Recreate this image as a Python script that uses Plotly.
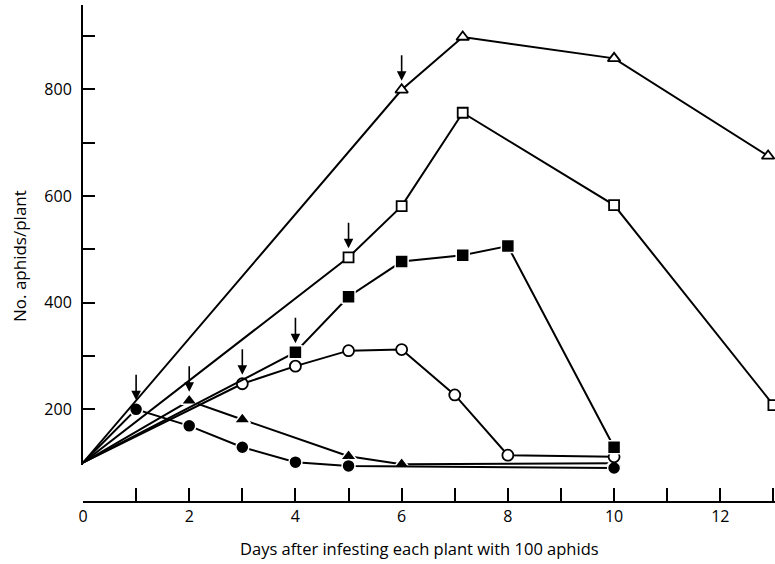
import plotly.graph_objects as go

# ---- data ----
fc_days = [0, 1, 2, 3, 4, 5, 10]
fc_vals = [100, 200, 169, 129, 101, 94, 90]

ft_days = [0, 2, 3, 5, 6, 10]
ft_vals = [100, 216, 181, 112, 97, 99]

oc_days = [0, 3, 4, 5, 6, 7, 8, 10]
oc_vals = [100, 248, 281, 310, 312, 227, 114, 111]

fs_days = [0, 4, 5, 6, 7.15, 8, 10]
fs_vals = [100, 307, 411, 477, 489, 506, 129]

os_days = [0, 5, 6, 7.15, 10, 13]
os_vals = [100, 485, 581, 756, 583, 208]

ot_days = [0, 6, 7.15, 10, 12.9]
ot_vals = [100, 799, 898, 858, 675]

x_title = "Days after infesting each plant with 100 aphids"
y_title = "No. aphids/plant"
x_major = [0, 2, 4, 6, 8, 10, 12]
y_major = [200, 400, 600, 800]
y_minor = [300, 500, 700, 900]

FONT = "Open Sans"

series = [
    (ft_days, ft_vals, "triangle-up", "black", 11),
    (fc_days, fc_vals, "circle", "black", 10),
    (oc_days, oc_vals, "circle", "white", 11),
    (fs_days, fs_vals, "square", "black", 10),
    (os_days, os_vals, "square", "white", 10),
    (ot_days, ot_vals, "triangle-up", "white", 11),
]

# axis geometry
Y_TOP, Y_AXIS_BOTTOM = 958, 95.6
DOM0 = 0.0744  # visible y-axis line starts above the detached x-axis
Y_DATA_BOTTOM = Y_TOP - (Y_TOP - Y_AXIS_BOTTOM) / (1 - DOM0)

fig = go.Figure()
for d, v, sym, fill, sz in series:
    filled = fill == "black"
    s = sz + (3 if filled else 0)
    sizes = [0] + [s] * (len(d) - 1)  # no marker at the common start point
    fig.add_trace(go.Scatter(
        x=d, y=v, mode="lines+markers",
        line=dict(color="black", width=2),
        marker=dict(symbol=sym, size=sizes, color=fill, opacity=1,
                    line=dict(color="white" if filled else "black",
                              width=1.5 if filled else 1.8)),
        cliponaxis=False, showlegend=False, hoverinfo="skip",
    ))
    # arrow above the first measured point of each series
    fig.add_annotation(
        x=d[1], y=v[1], xref="x", yref="y", text="",
        showarrow=True, ax=0, ay=-36, standoff=9,
        arrowhead=2, arrowsize=1.2, arrowwidth=1.6, arrowcolor="black",
    )

# empty trace so the visible (shorter) y-axis is drawn
fig.add_trace(go.Scatter(x=[], y=[], xaxis="x", yaxis="y2", showlegend=False,
                         hoverinfo="skip"))

W, H = 775, 564
l, r, t, b = 83, 0, 5, 62
pw, ph = W - l - r, H - t - b

fig.add_annotation(x=(419 - l) / pw, y=(H - b - 548) / ph, xref="paper", yref="paper",
                   text=x_title, showarrow=False, xanchor="center", yanchor="middle",
                   font=dict(family=FONT, size=16.5, color="black"))
fig.add_annotation(x=(19 - l) / pw, y=(H - b - 256) / ph, xref="paper", yref="paper",
                   text=y_title, textangle=-90, showarrow=False,
                   xanchor="center", yanchor="middle",
                   font=dict(family=FONT, size=17, color="black"))

fig.update_layout(
    width=W, height=H,
    margin=dict(l=l, r=r, t=t, b=b),
    paper_bgcolor="white", plot_bgcolor="rgba(0,0,0,0)",
    font=dict(family=FONT, size=16, color="black"),
    xaxis=dict(
        range=[0, 13.03], anchor="free", position=0,
        showline=True, linecolor="black", linewidth=2,
        ticks="inside", ticklen=13, tickwidth=2, tickcolor="black",
        tickvals=x_major, showgrid=False, zeroline=False,
        minor=dict(dtick=1, tick0=0, ticks="inside", ticklen=13, tickwidth=2,
                   tickcolor="black", showgrid=False),
        tickfont=dict(family=FONT, size=16, color="black"),
    ),
    yaxis=dict(
        domain=[0, 1], range=[Y_DATA_BOTTOM, Y_TOP],
        showline=False, ticks="", showticklabels=False,
        showgrid=False, zeroline=False,
    ),
    yaxis2=dict(
        domain=[DOM0, 1], range=[Y_AXIS_BOTTOM, Y_TOP], anchor="x",
        showline=True, linecolor="black", linewidth=2,
        ticks="inside", ticklen=12, tickwidth=2, tickcolor="black",
        tickvals=y_major, showgrid=False, zeroline=False,
        minor=dict(tickvals=y_minor, ticks="inside", ticklen=12, tickwidth=2,
                   tickcolor="black", showgrid=False),
        tickfont=dict(family=FONT, size=16, color="black"),
        ticklabelstandoff=6,
    ),
)

fig.write_html("out.html", config={"displayModeBar": False},
               post_script="document.body.style.margin='0';")
